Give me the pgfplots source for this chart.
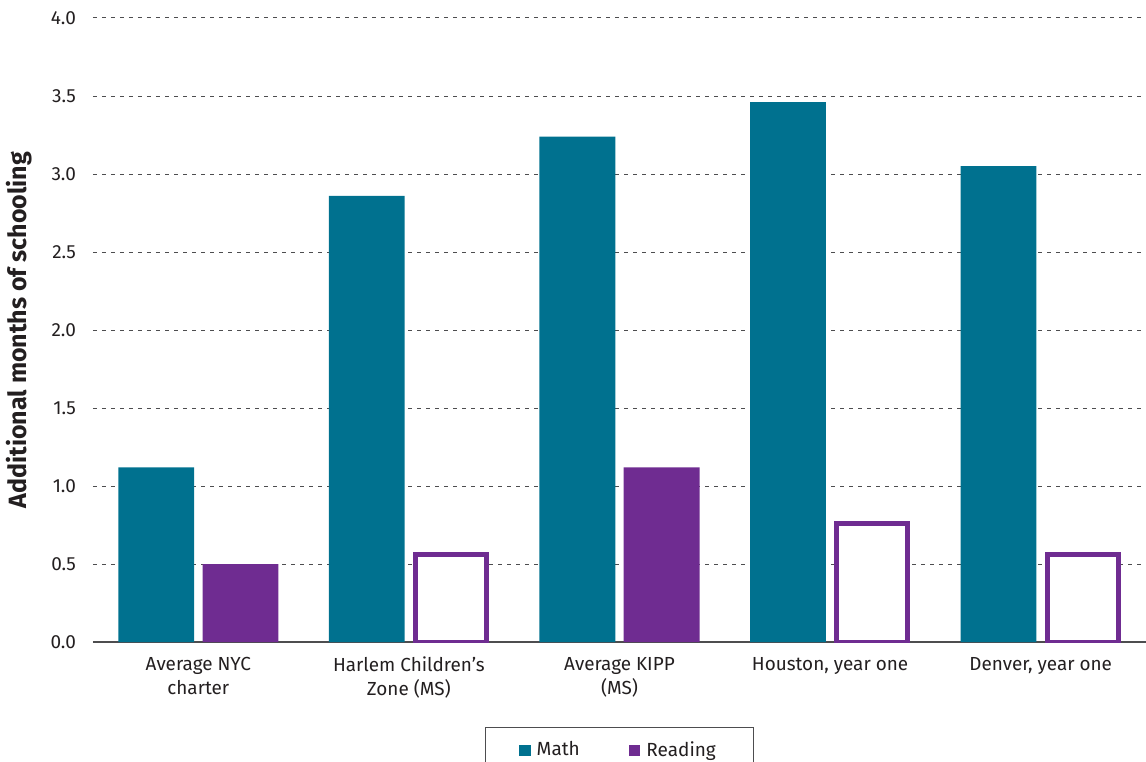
\documentclass[border=0pt]{standalone}
\usepackage{fontspec}
\setmainfont{Fira Sans}
\usepackage{pgfplots}
\pgfplotsset{compat=1.18}
\definecolor{mathc}{HTML}{00718F}
\definecolor{readc}{HTML}{6F2C91}
\definecolor{txt}{HTML}{231F20}
\definecolor{axisgray}{HTML}{4D4D4F}

\begin{document}
\begin{tikzpicture}
\begin{axis}[
  width=526.5pt, height=312pt, scale only axis,
  xmin=-0.5, xmax=4.5, ymin=0, ymax=4,
  axis x line*=bottom, axis y line*=left,
  y axis line style={draw=none},
  x axis line style={axisgray, line width=0.7pt, -},
  major tick length=0pt,
  xtick={0,1,2,3,4},
  xticklabels={{Average NYC\\charter}, {Harlem Children’s\\Zone (MS)}, {Average KIPP\\(MS)}, {Houston, year one}, {Denver, year one}},
  xticklabel style={align=center, text=txt, font=\fontsize{9.45}{12}\selectfont, yshift=-4pt},
  ytick={0,0.5,1,1.5,2,2.5,3,3.5,4},
  yticklabel style={text=txt, font=\fontsize{9.5}{11}\selectfont, xshift=-5pt,
    /pgf/number format/.cd, fixed, fixed zerofill, precision=1, assume math mode=true},
  ymajorgrids,
  grid style={dash pattern=on 2pt off 2.5pt, axisgray, line width=0.5pt},
  ylabel={Additional months of schooling},
  ylabel style={at={(axis description cs:-0.0702,0.5)}, anchor=center, text=txt,
    font=\fontsize{12.5}{14}\selectfont\bfseries},
  legend columns=2,
  legend style={at={(0.5,-0.136)}, anchor=north, draw=axisgray, line width=0.6pt,
    font=\fontsize{9.5}{11}\selectfont, text=txt, inner xsep=17pt, inner ysep=5pt,
    /tikz/every odd column/.append style={column sep=1pt},
    /tikz/every even column/.append style={column sep=22.5pt}},
]
\addplot[ybar, fill=mathc, draw=none, bar width=0.36, bar shift=-0.2, forget plot]
  coordinates {(0,1.12) (1,2.86) (2,3.24) (3,3.46) (4,3.05)};
\addplot[ybar, fill=readc, draw=none, bar width=0.36, bar shift=0.2, forget plot]
  coordinates {(0,0.5) (2,1.12)};
\addplot[ybar, fill=white, draw=readc, line width=2.5pt, bar width=0.336, bar shift=0.2, forget plot]
  coordinates {(1,0.56) (3,0.76) (4,0.56)};
\addlegendimage{legend image code/.code={\fill[mathc] (0pt,-2.6pt) rectangle (5.2pt,2.6pt);}}
\addlegendentry{Math}
\addlegendimage{legend image code/.code={\fill[readc] (0pt,-2.6pt) rectangle (5.2pt,2.6pt);}}
\addlegendentry{Reading}
\end{axis}
\pgfresetboundingbox
\path[use as bounding box] (-46.5pt,-59.5pt) rectangle (526.5pt,321pt);
\end{tikzpicture}
\end{document}
